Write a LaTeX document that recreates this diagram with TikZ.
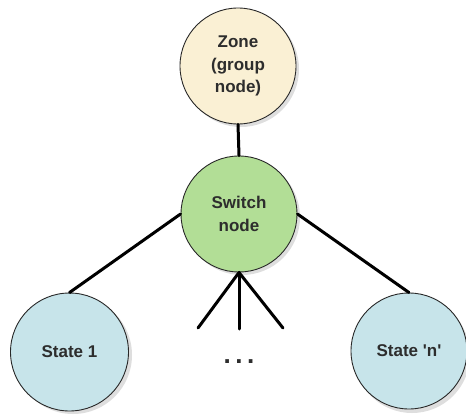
\documentclass[tikz,border=0pt]{standalone}
\usepackage{fontspec}
\setmainfont{Liberation Sans}
\definecolor{zonefill}{RGB}{250,240,212}
\definecolor{switchfill}{RGB}{178,222,150}
\definecolor{statefill}{RGB}{199,228,234}
\definecolor{txt}{RGB}{45,45,45}
\definecolor{rim}{RGB}{40,40,40}
\begin{document}
\begin{tikzpicture}[x=1pt,y=-1pt,
  ball/.style={circle, draw=rim, line width=0.9pt, minimum size=116pt, inner sep=0pt,
    align=center, text=txt, font=\fontsize{17}{22.5}\selectfont\bfseries},
  shade/.style={circle, fill=black!13, minimum size=116pt, inner sep=0pt},
  link/.style={line width=3pt, line cap=round, black}]
\useasboundingbox (0,0) rectangle (466,417);
% shadows
\foreach \x/\y/\s in {241/69/116, 242/217/116, 73/355/118, 412/355/116}
  \node[shade, minimum size=\s pt] at (\x,\y) {};
% nodes
\node[ball, fill=zonefill] (zone) at (238,66) {Zone\\(group\\node)};
\node[ball, fill=switchfill] (switch) at (239,214) {Switch\\node};
\node[ball, fill=statefill, minimum size=118pt] (s1) at (69.5,352) {State 1};
\node[ball, fill=statefill] (sn) at (409,351) {State \textquotesingle n\textquotesingle};
% free ends
\coordinate (d1) at (198,328);
\coordinate (d2) at (239,329);
\coordinate (d3) at (283,328);
\node[text=txt, font=\fontsize{26}{26}\selectfont\bfseries, anchor=base, inner sep=0pt] (dots) at (239,363) {.\hspace{4.5pt}.\hspace{4.5pt}.};
% connectors
\draw[link] (zone.south) -- (switch.north);
\draw[link] (s1.north) -- (switch.west);
\draw[link] (sn.north) -- (switch.east);
\draw[link] (switch.south) -- (d1);
\draw[link] (switch.south) -- (d2);
\draw[link] (switch.south) -- (d3);
\end{tikzpicture}
\end{document}
